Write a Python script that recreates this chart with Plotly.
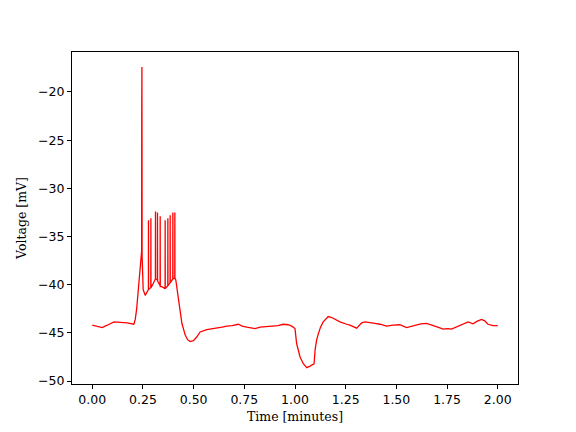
import plotly.graph_objects as go

# Membrane voltage trace (time in minutes, voltage in mV)
time_min = [
    0.000, 0.025, 0.049, 0.074, 0.107, 0.138, 0.172, 0.205, 0.212, 0.219,
    0.223, 0.232, 0.240, 0.2435, 0.2440, 0.2448, 0.2453, 0.2458, 0.251, 0.261,
    0.271, 0.2769, 0.2773, 0.2777, 0.283, 0.2888, 0.2892, 0.2896, 0.300, 0.3114,
    0.3118, 0.3122, 0.3213, 0.3217, 0.3221, 0.3346, 0.3350, 0.3354, 0.343, 0.3592,
    0.3596, 0.3600, 0.3725, 0.3729, 0.3733, 0.3838, 0.3842, 0.3846, 0.3971, 0.3975,
    0.3979, 0.4070, 0.4074, 0.4078, 0.412, 0.422, 0.429, 0.442, 0.458, 0.470,
    0.483, 0.499, 0.516, 0.532, 0.565, 0.586, 0.614, 0.640, 0.664, 0.690,
    0.721, 0.739, 0.762, 0.803, 0.828, 0.857, 0.893, 0.916, 0.942, 0.966,
    0.984, 1.000, 1.008, 1.017, 1.025, 1.041, 1.058, 1.074, 1.094, 1.099,
    1.106, 1.115, 1.126, 1.139, 1.164, 1.181, 1.202, 1.222, 1.255, 1.271,
    1.304, 1.329, 1.345, 1.369, 1.394, 1.419, 1.452, 1.483, 1.517, 1.550,
    1.576, 1.600, 1.621, 1.649, 1.681, 1.704, 1.731, 1.754, 1.772, 1.797,
    1.821, 1.837, 1.854, 1.878, 1.897, 1.920, 1.936, 1.952, 1.977, 2.000,
]
voltage_mv = [
    -44.20, -44.30, -44.45, -44.20, -43.85, -43.90, -43.95, -44.10, -43.60, -42.50,
    -41.60, -39.50, -37.10, -36.50, -23.00, -17.40, -23.50, -37.00, -40.50, -41.10,
    -40.70, -40.50, -33.30, -40.50, -40.40, -40.30, -33.10, -40.30, -39.90, -39.40,
    -32.40, -39.40, -39.50, -32.50, -39.60, -40.10, -32.90, -40.20, -40.20, -40.40,
    -33.30, -40.40, -40.10, -33.10, -40.10, -39.80, -32.80, -39.80, -39.40, -32.50,
    -39.40, -39.30, -32.50, -39.30, -39.50, -41.20, -42.30, -44.00, -45.20, -45.70,
    -45.90, -45.80, -45.40, -44.90, -44.65, -44.60, -44.50, -44.40, -44.30, -44.25,
    -44.10, -44.30, -44.40, -44.55, -44.40, -44.35, -44.30, -44.25, -44.10, -44.15,
    -44.30, -44.55, -46.10, -47.00, -47.50, -48.20, -48.60, -48.45, -48.20, -46.80,
    -45.80, -45.10, -44.40, -43.85, -43.30, -43.40, -43.65, -43.85, -44.10, -44.20,
    -44.50, -43.95, -43.85, -43.90, -44.00, -44.10, -44.30, -44.20, -44.15, -44.45,
    -44.30, -44.20, -44.05, -44.00, -44.20, -44.40, -44.60, -44.55, -44.60, -44.35,
    -44.10, -43.95, -43.85, -44.05, -43.80, -43.60, -43.75, -44.10, -44.25, -44.25,
]
x_ticks = [0.00, 0.25, 0.50, 0.75, 1.00, 1.25, 1.50, 1.75, 2.00]
y_ticks = [-50, -45, -40, -35, -30, -25, -20]

fig = go.Figure()
fig.add_trace(
    go.Scatter(
        x=time_min,
        y=voltage_mv,
        mode="lines",
        line=dict(color="red", width=1.3),
        showlegend=False,
    )
)

axis_style = dict(
    showline=True,
    linecolor="black",
    linewidth=1,
    mirror=True,
    ticks="outside",
    ticklen=4,
    tickwidth=1,
    tickcolor="black",
    showgrid=False,
    zeroline=False,
    tickfont=dict(family="DejaVu Sans", size=12.5, color="black"),
)

# the page body adds an 8px offset, so margins are shifted to put the axes
# box where the reference has it (x 72..518, y 52..384)
fig.update_xaxes(
    range=[-0.1, 2.1],
    tickvals=x_ticks,
    ticktext=[f"{v:.2f}" for v in x_ticks],
    title=dict(text="Time [minutes]", font=dict(family="DejaVu Serif", size=12.5, color="black"), standoff=6),
    **axis_style,
)
fig.update_yaxes(
    range=[-50.3, -15.85],
    tickvals=y_ticks,
    ticktext=[f"\u2212{abs(v)}" for v in y_ticks],
    title=dict(text="Voltage [mV]", font=dict(family="DejaVu Serif", size=12.5, color="black"), standoff=8),
    **axis_style,
)

fig.update_layout(
    width=576,
    height=432,
    margin=dict(l=64, r=66, t=44, b=56, autoexpand=False),
    plot_bgcolor="white",
    paper_bgcolor="white",
)

fig.write_html("out.html")
